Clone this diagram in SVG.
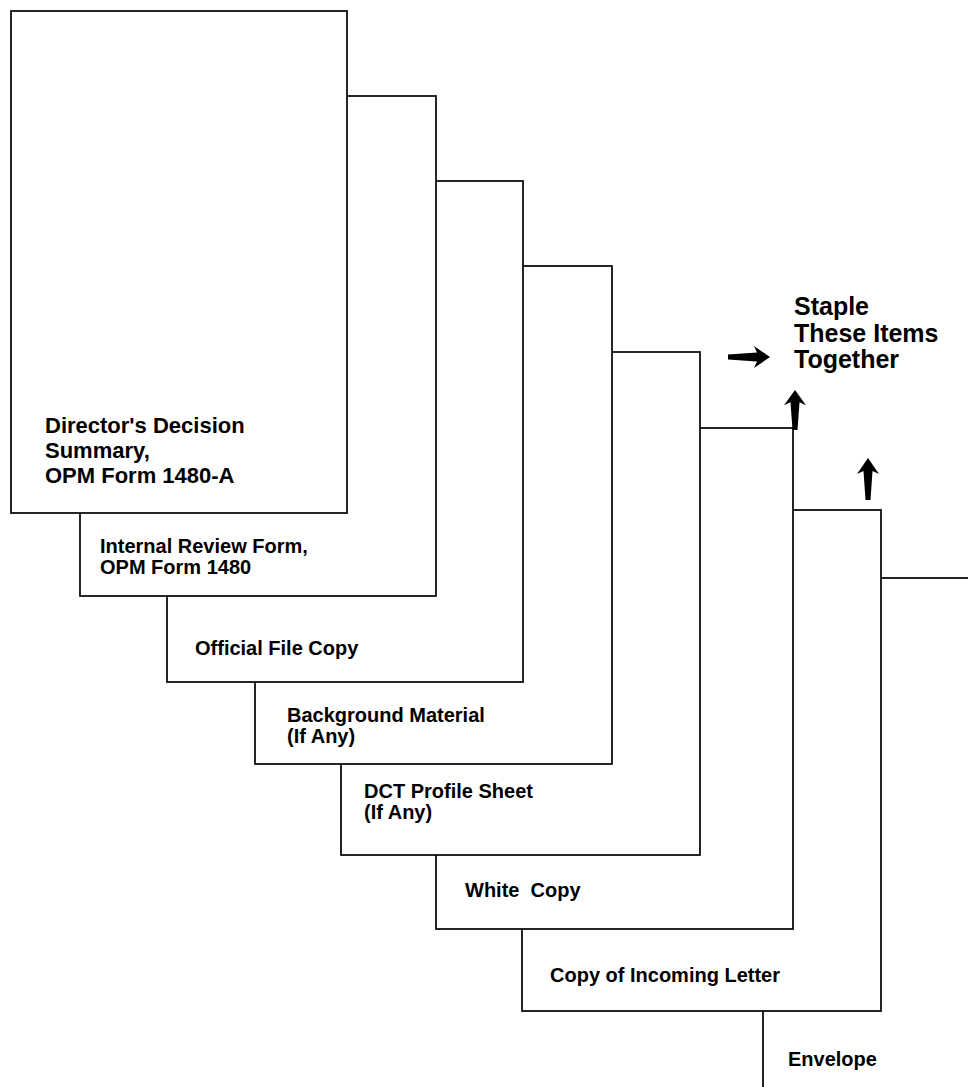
<svg xmlns="http://www.w3.org/2000/svg" width="968" height="1087" viewBox="0 0 968 1087">
<style>
.page{fill:#fff;stroke:#000;stroke-width:1.7}
.lbl{font-family:"Liberation Sans",Arial,sans-serif;font-weight:bold;font-size:20px;fill:#000}
.big{font-size:22px}
.staple{font-size:25px}
.arr{fill:#000}
</style>
<defs>
<path id="uparrow" class="arr" d="M0,0 L11,16 L4.5,13 L2.5,42 L-2.5,42 L-4.5,13 L-11,16 Z"/>
</defs>
<rect width="968" height="1087" fill="#fff"/>
<g id="envelope">
<rect class="page" x="763" y="578" width="260" height="560"/>
<text class="lbl" x="788" y="1066">Envelope</text>
</g>
<g id="incoming-letter">
<rect class="page" x="522" y="510" width="359" height="501"/>
<text class="lbl" x="550" y="982">Copy of Incoming Letter</text>
</g>
<g id="white-copy">
<rect class="page" x="436" y="428" width="357" height="501"/>
<text class="lbl" x="465" y="897" xml:space="preserve">White  Copy</text>
</g>
<g id="dct-profile">
<rect class="page" x="341" y="352" width="359" height="503"/>
<text class="lbl" x="364" y="798">DCT Profile Sheet</text>
<text class="lbl" x="364" y="819">(If Any)</text>
</g>
<g id="background-material">
<rect class="page" x="255" y="266" width="357" height="498"/>
<text class="lbl" x="287" y="722">Background Material</text>
<text class="lbl" x="287" y="743">(If Any)</text>
</g>
<g id="official-file-copy">
<rect class="page" x="167" y="181" width="356" height="501"/>
<text class="lbl" x="195" y="655">Official File Copy</text>
</g>
<g id="internal-review">
<rect class="page" x="80" y="96" width="356" height="500"/>
<text class="lbl" x="100" y="553">Internal Review Form,</text>
<text class="lbl" x="100" y="574">OPM Form 1480</text>
</g>
<g id="director-summary">
<rect class="page" x="11" y="11" width="336" height="502"/>
<text class="lbl big" x="45" y="433">Director's Decision</text>
<text class="lbl big" x="45" y="458">Summary,</text>
<text class="lbl big" x="45" y="483">OPM Form 1480-A</text>
</g>
<g id="staple-note">
<text class="lbl staple" x="794" y="315">Staple</text>
<text class="lbl staple" x="794" y="342">These Items</text>
<text class="lbl staple" x="794" y="368">Together</text>
</g>
<g id="connectors">
<use href="#uparrow" transform="translate(770,357) rotate(90)"/>
<use href="#uparrow" transform="translate(795,390) scale(1,0.95)"/>
<use href="#uparrow" transform="translate(868,458)"/>
</g>
</svg>
